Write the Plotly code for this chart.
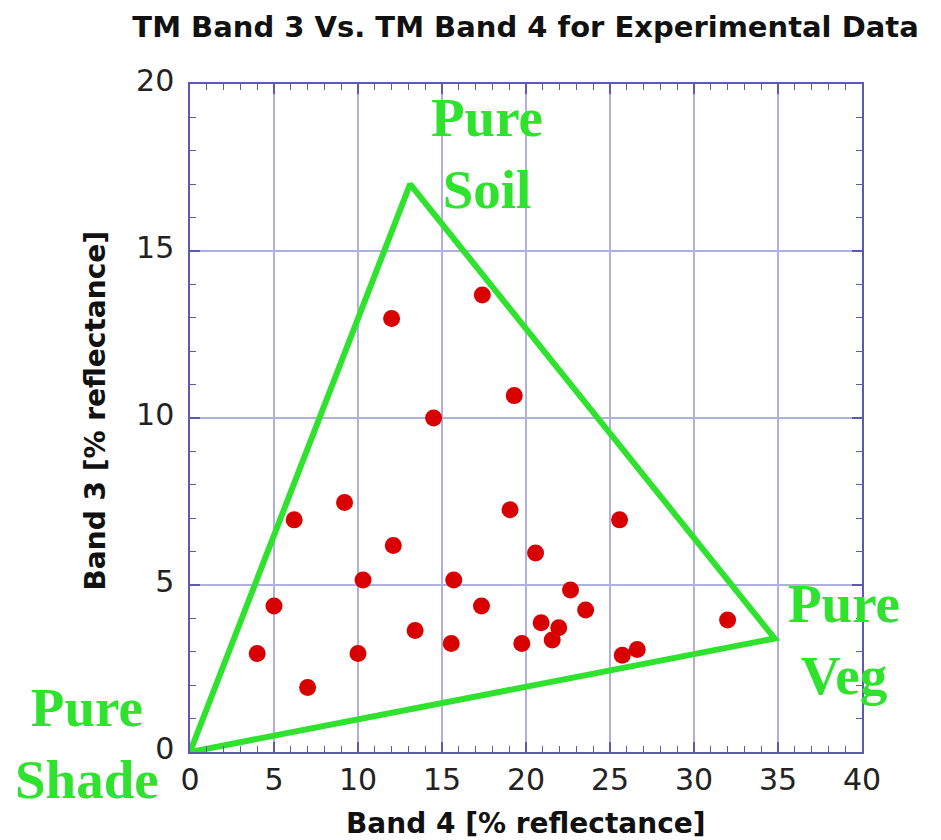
import plotly.graph_objects as go

# Landsat TM band 4 (x) vs band 3 (y) reflectance, in percent
band4 = [4.0, 5.0, 6.2, 7.0, 9.2, 10.0, 10.3, 12.0, 12.1, 13.4, 14.5, 15.55, 15.7, 17.4,
         17.35, 19.05, 19.3, 19.75, 20.57, 20.9, 21.56, 21.95, 22.65, 23.55, 25.57, 25.73,
         26.62, 32.0]
band3 = [2.95, 4.37, 6.95, 1.93, 7.47, 2.95, 5.15, 12.98, 6.18, 3.64, 10.0, 3.25, 5.15, 13.68,
         4.37, 7.25, 10.67, 3.25, 5.96, 3.87, 3.35, 3.72, 4.85, 4.25, 6.95, 2.9,
         3.07, 3.95]

# Endmember triangle: shade, soil, vegetation (closed back to shade)
end_names = ["Pure<br>Shade", "Pure<br>Soil", "Pure<br>Veg"]
end_x = [0.0, 13.1, 34.8]
end_y = [0.0, 17.0, 3.4]

# Where each endmember name is written, as fractions of the plot area
label_px = [-0.153, 0.4420, 0.9725]
label_py = [0.012, 0.8955, 0.1690]

x_ticks = [0, 5, 10, 15, 20, 25, 30, 35, 40]
y_ticks = [0, 5, 10, 15, 20]

GREEN = "#2ee22e"
RED = "#d80000"
FRAME = "#5a5ab4"
GRID = "#aeb0e0"

fig = go.Figure()

fig.add_trace(go.Scatter(
    x=end_x + end_x[:1], y=end_y + end_y[:1],
    mode="lines",
    line=dict(color=GREEN, width=6),
    hoverinfo="skip",
    cliponaxis=False,
    showlegend=False,
))

fig.add_trace(go.Scatter(
    x=band4, y=band3,
    mode="markers",
    marker=dict(color=RED, size=17, line=dict(width=0)),
    showlegend=False,
))

for name, lx, ly in zip(end_names, label_px, label_py):
    fig.add_annotation(
        x=lx, y=ly, xref="paper", yref="paper",
        text=name, showarrow=False,
        xanchor="center", yanchor="middle",
        font=dict(family="Liberation Serif", size=55, color=GREEN, weight="bold"),
    )

# Axis titles
fig.add_annotation(
    x=0.5007, y=-0.1063, xref="paper", yref="paper",
    text="Band 4 [% reflectance]", showarrow=False,
    xanchor="center", yanchor="middle",
    font=dict(family="DejaVu Sans", size=28, color="#111111", weight="bold"),
)
fig.add_annotation(
    x=-0.1406, y=0.5105, xref="paper", yref="paper",
    text="Band 3 [% reflectance]", showarrow=False, textangle=-90,
    xanchor="center", yanchor="middle",
    font=dict(family="DejaVu Sans", size=28, color="#111111", weight="bold"),
)

axis_common = dict(
    showgrid=True, gridcolor=GRID, gridwidth=1.5,
    zeroline=False,
    showline=True, linecolor=FRAME, linewidth=1.5, mirror="allticks",
    ticks="inside", ticklen=10, tickwidth=1.5, tickcolor=FRAME,
    tickfont=dict(family="DejaVu Sans", size=30, color="#222222"),
    minor=dict(ticks="inside", dtick=1, ticklen=6, tickwidth=1.2, tickcolor=FRAME,
               showgrid=False),
    fixedrange=True,
)

fig.update_xaxes(range=[0, 40], tickvals=x_ticks, ticktext=[str(v) for v in x_ticks],
                 ticklabelstandoff=0, **axis_common)
fig.update_yaxes(range=[0, 20], tickvals=y_ticks, ticktext=[str(v) for v in y_ticks],
                 ticklabelstandoff=8, ticklabelshift=-4, **axis_common)

fig.update_layout(
    width=941, height=840,
    margin=dict(l=190, r=79, t=84, b=88, autoexpand=False),
    paper_bgcolor="white", plot_bgcolor="white",
    title=dict(
        text="TM Band 3 Vs. TM Band 4 for Experimental Data",
        x=0.5585, xanchor="center", y=1 - 27 / 840, yanchor="middle", yref="container",
        font=dict(family="DejaVu Sans", size=29, color="#111111", weight="bold"),
    ),
)

fig.write_html("out.html", config={"displayModeBar": False})
